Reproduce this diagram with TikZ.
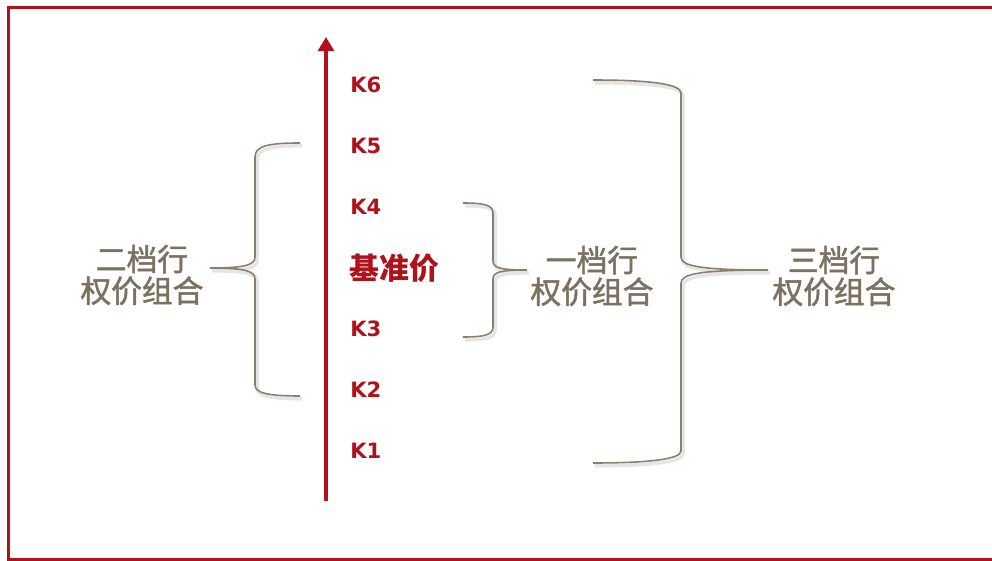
\documentclass[tikz,border=0pt]{standalone}
\usepackage{fontspec}
\newfontfamily\cjk{Noto Sans CJK SC}
\newfontfamily\cjkmid{Noto Sans CJK SC}[FakeBold=1.6]
\newfontfamily\kfont{DejaVu Sans}
\usetikzlibrary{arrows.meta}
\definecolor{axisred}{HTML}{B0121B}
\definecolor{bracebrown}{HTML}{8A7E6C}
\definecolor{labelbrown}{HTML}{7D705F}
\tikzset{
  strike/.style={font=\kfont\bfseries\fontsize{12}{13}\selectfont,text=axisred,anchor=west,inner sep=0pt},
  group/.style={font=\cjkmid\fontsize{17.5}{18}\selectfont,text=labelbrown,align=center,inner sep=0pt},
  curly/.style={draw=bracebrown,line width=0.9pt,
    preaction={draw=black!10,line width=2pt,transform canvas={shift={(1.2pt,-1.6pt)}}}}
}
\begin{document}
\begin{tikzpicture}[x=0.02cm,y=-0.02cm]
      \useasboundingbox (0,0) rectangle (992,561);
      \draw[axisred,line width=1.7pt] (1000,7.5) -- (8.5,7.5) -- (8.5,559.5) -- (1000,559.5);

      % price axis
      \coordinate (axisbot) at (326,501);
      \coordinate (axistop) at (326,37);
      \draw[axisred,line width=2.3pt,-{Triangle[width=9pt,length=8pt]}] (axisbot) -- (axistop);

      \node[strike] (k6) at (350,85) {K6};
      \node[strike] (k5) at (350,146) {K5};
      \node[strike] (k4) at (350,207) {K4};
      \node[strike,font=\cjk\bfseries\fontsize{17}{18}\selectfont] (base) at (349,268) {基准价};
      \node[strike] (k3) at (350,329) {K3};
      \node[strike] (k2) at (350,390) {K2};
      \node[strike] (k1) at (350,451) {K1};

      % braces
      \coordinate (b2top) at (300,143);
      \coordinate (b2tip) at (210,268);
      \coordinate (b2bot) at (300,396);
      \draw[curly] (b2top) .. controls (268,143) and (255,146) .. (255,157) -- (255,257)
        .. controls (255,265) and (245,268) .. (b2tip)
        .. controls (245,268) and (255,271) .. (255,279) -- (255,385)
        .. controls (255,393) and (268,396) .. (b2bot);

      \coordinate (b1top) at (463,203);
      \coordinate (b1tip) at (527,270);
      \coordinate (b1bot) at (463,337);
      \draw[curly] (b1top) .. controls (484,203) and (493,205) .. (493,213) -- (493,261)
        .. controls (493,268) and (501,270) .. (b1tip)
        .. controls (501,270) and (493,272) .. (493,279) -- (493,327)
        .. controls (493,335) and (484,337) .. (b1bot);

      \coordinate (b3top) at (593,80);
      \coordinate (b3tip) at (768,270);
      \coordinate (b3bot) at (593,463);
      \draw[curly] (b3top) .. controls (650,80) and (681,84) .. (681,93) -- (681,257)
        .. controls (681,266) and (700,270) .. (b3tip)
        .. controls (700,270) and (681,274) .. (681,283) -- (681,451)
        .. controls (681,459) and (650,463) .. (b3bot);

      \node[group] (g2) at (142,275) {二档行\\权价组合};
      \node[group] (g1) at (592,276) {一档行\\权价组合};
      \node[group] (g3) at (834,276) {三档行\\权价组合};
\end{tikzpicture}
\end{document}
